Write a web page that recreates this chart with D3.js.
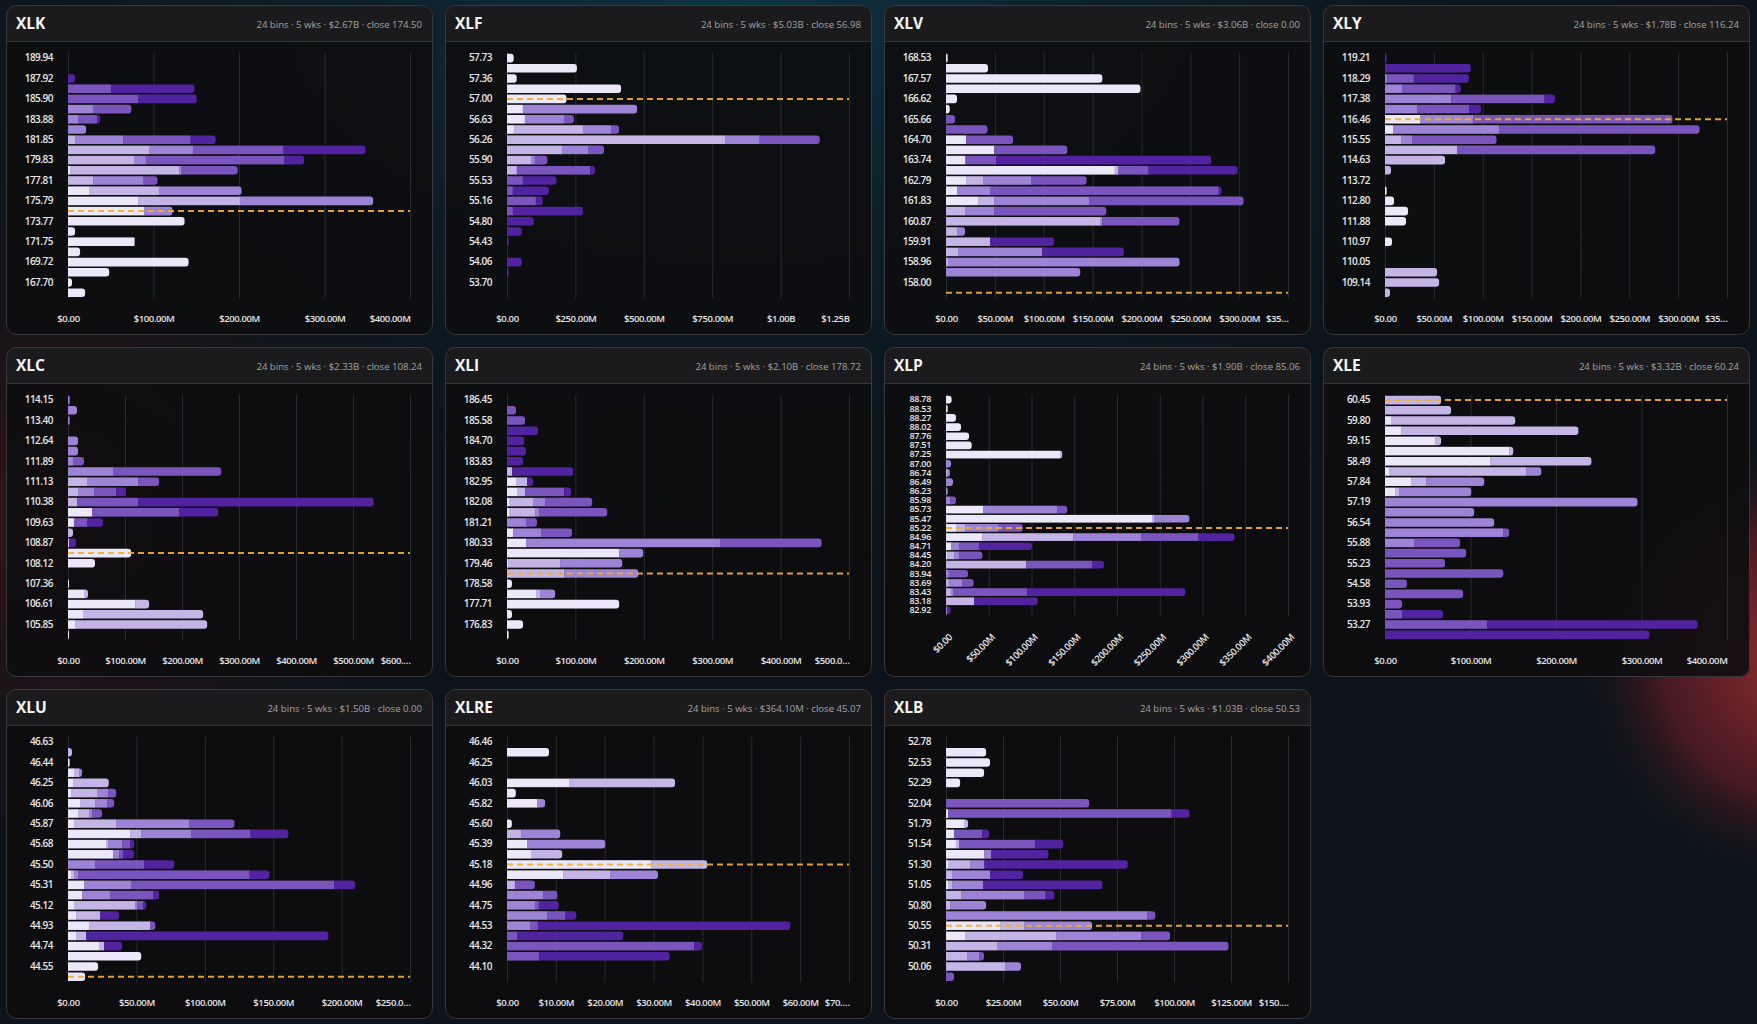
<!DOCTYPE html>
<html>
<head>
<meta charset="utf-8">
<script src="https://cdn.jsdelivr.net/npm/d3@7"></script>
<style>
  html, body { margin: 0; padding: 0; background: #0a0f14; overflow: hidden; }
  svg { display: block; }
</style>
</head>
<body>
<script>
// ---- data ----
var tickers = ["XLK", "XLF", "XLV", "XLY", "XLC", "XLI", "XLP", "XLE", "XLU", "XLRE", "XLB"];
var totals  = ["$2.67B", "$5.03B", "$3.06B", "$1.78B", "$2.33B", "$2.10B", "$1.90B", "$3.32B", "$1.50B", "$364.10M", "$1.03B"];
var closes  = [174.50, 56.98, 0.00, 116.24, 108.24, 178.72, 85.06, 60.24, 0.00, 45.07, 50.53];
var axisMax  = [400e6, 1.25e9, 350e6, 350e6, 600e6, 500e6, 400e6, 400e6, 250e6, 70e6, 150e6];
var axisStep = [100e6, 250e6, 50e6, 50e6, 100e6, 100e6, 50e6, 100e6, 50e6, 10e6, 25e6];

// shown price labels (every other bin, XLP shows all 24)
var xlkPrices  = [189.94, 187.92, 185.90, 183.88, 181.85, 179.83, 177.81, 175.79, 173.77, 171.75, 169.72, 167.70];
var xlfPrices  = [57.73, 57.36, 57.00, 56.63, 56.26, 55.90, 55.53, 55.16, 54.80, 54.43, 54.06, 53.70];
var xlvPrices  = [168.53, 167.57, 166.62, 165.66, 164.70, 163.74, 162.79, 161.83, 160.87, 159.91, 158.96, 158.00];
var xlyPrices  = [119.21, 118.29, 117.38, 116.46, 115.55, 114.63, 113.72, 112.80, 111.88, 110.97, 110.05, 109.14];
var xlcPrices  = [114.15, 113.40, 112.64, 111.89, 111.13, 110.38, 109.63, 108.87, 108.12, 107.36, 106.61, 105.85];
var xliPrices  = [186.45, 185.58, 184.70, 183.83, 182.95, 182.08, 181.21, 180.33, 179.46, 178.58, 177.71, 176.83];
var xlpPrices  = [88.78, 88.53, 88.27, 88.02, 87.76, 87.51, 87.25, 87.00, 86.74, 86.49, 86.23, 85.98,
                  85.73, 85.47, 85.22, 84.96, 84.71, 84.45, 84.20, 83.94, 83.69, 83.43, 83.18, 82.92];
var xlePrices  = [60.45, 59.80, 59.15, 58.49, 57.84, 57.19, 56.54, 55.88, 55.23, 54.58, 53.93, 53.27];
var xluPrices  = [46.63, 46.44, 46.25, 46.06, 45.87, 45.68, 45.50, 45.31, 45.12, 44.93, 44.74, 44.55];
var xlrePrices = [46.46, 46.25, 46.03, 45.82, 45.60, 45.39, 45.18, 44.96, 44.75, 44.53, 44.32, 44.10];
var xlbPrices  = [52.78, 52.53, 52.29, 52.04, 51.79, 51.54, 51.30, 51.05, 50.80, 50.55, 50.31, 50.06];

// $M per bin (top bin first), one column per week, oldest week first
var xlkVol = [[0,0,0,0,0],[0,0,0,0,0],[0,0,0,0,8.2],[0,0,0,50.5,97.5],[0,0,0,82.3,68.2],[0,0,29.4,44.7,0],
  [0,0,11.8,21.9,3.9],[0,0,21.2,0,0],[0,8.2,56.4,78.7,29.4],[0,95.2,50.9,105.8,96],[0,77.6,13.3,162.2,23.1],[2.4,127.6,2.7,65.8,0],
  [0,29.4,58.8,16.5,0],[25.1,81.9,96,0,0],[82.3,118.7,155.9,0,0],[89.3,0,32.9,0,0],[136.3,0,0,0,0],[8.2,0,0,0,0],
  [77,1,0,0,0],[14.1,0,0,0,0],[141,0,0,0,0],[48.2,0,0,0,0],[4.7,0,0,0,0],[20,0,0,0,0]];
var xlfVol = [[24.4,0,0,0,0],[255.5,0,0,0,0],[35.5,0,0,0,0],[416.9,0,0,0,0],[217.6,0,0,0,0],[57.5,0,418.1,0,0],
  [64.8,0,143,36.7,0],[24.4,253,102.7,29.3,0],[0,798.3,124.7,220,0],[0,200.5,95.4,58.7,0],[0,88,13.4,46.5,0],[0,35.5,0,268,18.3],
  [0,0,0,57.5,123.5],[0,0,0,20.8,132],[0,0,0,105,25.7],[0,0,0,20.8,256.7],[0,0,0,0,97.8],[0,0,0,0,53.8],
  [0,0,0,0,6.1],[0,0,0,0,0],[0,0,0,0,53.8],[0,0,0,0,6.1],[0,0,0,0,0],[0,0,0,0,0]];
var xlvVol = [[1.7,0,0,0,0],[43,0,0,0,0],[160,0,0,0,0],[199,0,0,0,0],[11.3,0,0,0,0],[3.8,0,0,0,0],
  [0,0,0,9.2,0],[0,0,0,42.4,0],[20.5,0,0,48.2,0],[49.2,0,0,74.9,0],[19.8,0,0,31.4,220.3],[172.6,3.8,0,30.8,91.3],
  [20.5,17.4,49.2,56.7,0],[11.3,0,33.8,233.8,3.1],[32.8,16.4,97.4,157.9,0],[0,19.5,29.7,114.8,0],[0,158.2,1.7,79,0],[0,11.3,8.2,0,0],
  [0,45.1,0,0,65.6],[0,12.3,86.1,0,83.7],[0,2,237,0,0],[0,0,137.4,0,0],[0,0,0,0,0],[0,0,0,0,0]];
var xlyVol = [[0,0,0,0,1.7],[0,0,0,0,87.8],[0,0,1.7,27.7,56.4],[0,0,17.4,54.7,5.5],[0,0,67.7,95.4,10.9],[0,0,32.8,53.3,12.3],
  [35.9,0,54.3,204,0],[8.2,0,108.7,205,0],[0,16.4,11.3,86.5,0],[0,73.8,0,202.7,0],[0,61.5,0,0,0],[0,6.2,0,0,0],
  [0,0,0,0,0],[1.7,0,0,0,0],[9.2,0,0,0,0],[23.6,0,0,0,0],[21.5,0,0,0,0],[0,0,0,0,0],
  [7.2,0,0,0,0],[0,0,0,0,0],[0,0,0,0,0],[0,53.3,0,0,0],[0,55.4,0,0,0],[0,5.1,0,0,0]];
var xlcVol = [[0,0,2.9,0,0],[0,0,15.8,0,0],[0,0,2.9,0,0],[0,0,0,0,0],[0,0,17.6,0,0],[0,0,17.6,0,0],
  [0,0,8.8,19.3,0],[0,0,79,189.7,0],[0,33.4,89.6,36.9,0],[0,17.6,28.1,38.6,17.6],[0,15.8,0,107.1,413.3],[42.2,0,0,152.8,68.5],
  [10.5,0,0,22.8,28.1],[0,8.8,0,0,0],[1.5,0,0,0,12.5],[110.7,0,0,0,0],[47.4,0,0,0,0],[0,0,0,0,0],
  [1.8,0,0,0,0],[28.1,7,0,0,0],[117.7,24.6,0,0,0],[26.3,210.8,0,0,0],[12.3,231.9,0,0,0],[1.8,0,0,0,0]];
var xliVol = [[0,0,0,0,0],[0,0,0,13.2,0],[0,0,0,26.4,0],[0,0,0,0,45.4],[0,0,0,0,24.9],[0,0,0,0,27.8],
  [0,0,0,0,23.4],[0,7.3,0,0,89.4],[13.2,16.1,0,0,8.8],[14.6,11.7,0,57.1,10.3],[2.9,35.2,17.6,68.8,0],[2.9,38.1,5.9,99.6,0],
  [0,0,27.8,16.1,0],[8.8,0,41,45.4,0],[27.8,0,284.2,148,0],[164,0,35.2,0,0],[1.5,76.2,90.8,0,0],[0,83.5,108.4,0,0],
  [7.3,0,0,0,0],[42.5,5.9,22,0,0],[164,0,0,0,0],[7.3,0,0,0,0],[23.4,0,0,0,0],[2.4,0,0,0,0]];
var xlpVol = [[6.6,0,0,0,0],[2,0,0,0,0],[11.7,0,0,0,0],[17.6,0,0,0,0],[27,0,0,0,0],[30.1,0,0,0,0],
  [133.2,2.7,0,0,0],[0,0,5.9,0,0],[0,1.2,3.5,0,0],[0,0,8.2,0,0],[0,0,2,0,0],[0,0,4.7,7,0],
  [43.4,0,86.7,11.7,0],[241,2.3,41.4,0,0],[11.7,10.5,38.7,28.9,0],[42.2,106.6,79.7,66.8,42.2],[5.9,0,9.4,23.4,61.7],[1.2,8.2,5.9,27.3,0],
  [0,93.8,0,77.3,13.7],[0,0,3.1,22.7,0],[0,3.1,15.6,13.7,0],[0,5.5,2.7,86.7,185.2],[0,32.8,0,0,74.6],[0,0.8,0,0,4.7]];
var xleVol = [[0,65.6,0,0,0],[0,77.3,0,0,0],[7,145.3,0,0,0],[18.8,207.4,0,0,0],[58.6,7,0,0,0],[145.3,4.7,0,0,0],
  [123,118.4,0,0,0],[4.7,160.5,17.6,0,0],[30.5,17.6,68,0,0],[11.7,4.7,84.4,0,0],[0,0,295.3,0,0],[0,0,104.3,0,0],
  [0,0,127.7,0,0],[0,0,138.3,7,0],[0,0,34,53.9,0],[0,0,0,94.9,0],[0,0,0,70.3,0],[0,0,0,138.3,0],
  [0,0,0,25.8,0],[0,0,0,91.4,0],[0,0,0,19.9,0],[0,0,0,19.9,48],[0,0,0,119.5,246.1],[0,0,0,0,309.4]];
var xluVol = [[0,0,0,0,0],[0,2.9,0,0,0],[1.2,0,0,0,0],[4.4,3.7,2.2,0,0],[3.7,26.1,0,0,0],[2.2,19,8.1,5.9,0],
  [8.8,11,8.8,5.1,0],[7.3,8.1,2.2,7.3,0],[4.4,30.8,53.5,33,0],[45.4,8.1,36.6,43.2,27.8],[27.8,1.5,10.3,5.9,2.9],[33,0,4.4,2.9,8.1],
  [0,0,19.8,35.9,22],[2.2,2.2,2.9,125.4,14.6],[11.7,0,34.4,148.4,15.4],[10.3,0,20.5,31.5,4.4],[4.4,44.7,1.5,4.4,2.2],[5.9,17.6,0,0,13.9],
  [15.4,44.7,0,3.7,0],[5.9,7.3,0,0,177.2],[22.7,3.7,0,0,13.2],[53.5,0,0,0,0],[22,0,0,0,0],[12.5,0,0,0,0]];
var xlreVol = [[0,0,0,0,0],[8.6,0,0,0,0],[0,0,0,0,0],[0,0,0,0,0],[12.7,21.7,0,0,0],[1.8,0,0,0,0],
  [6.2,0,1.6,0,0],[0,0,0,0,0],[1,0,0,0,0],[0,2.9,8,0,0],[4.1,0,16,0,0],[4.9,6.4,0,0,0],
  [29.5,11.5,0,0,0],[11.5,9.6,9.8,0,0],[0,1.6,0,4.1,0],[0,0,7.4,2.9,0],[0,0,5.7,0.8,4.1],[0,0,8.2,3.7,2.3],
  [0,0,4.7,1.6,51.7],[0,0,0,2.1,21.7],[0,0,0,38.3,1.6],[0,0,0,6.6,26.7],[0,0,0,0,0],[0,0,0,0,0]];
var xlbVol = [[0,0,0,0,0],[17.6,0,0,0,0],[19.3,0,0,0,0],[16.7,0,0,0,0],[6.2,0,0,0,0],[0,0,0,0,0],
  [0,0,0,62.8,0],[0.9,0,0,98,7.9],[7.9,1.8,0,0,0],[3.5,0,0,12.3,3.1],[4.4,1.3,0,33.4,12.3],[16.7,0,3.1,0,25.2],
  [0.9,9.7,6.2,0,62.9],[0,2.6,16.7,0,14.5],[0.9,1.8,13.6,0,52.3],[0,6.6,27.8,9.2,4],[0,1.8,15.8,0,0],[0,0,88.3,3.5,0],
  [23.7,10.5,29.9,0,0],[8.3,40,37.3,12.7,0],[0,22.4,24.2,77.3,0],[0,9.2,5.3,2.2,0],[0,25.9,7,0,0],[0,0,0,3.5,0]];

var volumes = [xlkVol, xlfVol, xlvVol, xlyVol, xlcVol, xliVol, xlpVol, xleVol, xluVol, xlreVol, xlbVol];
var prices  = [xlkPrices, xlfPrices, xlvPrices, xlyPrices, xlcPrices, xliPrices, xlpPrices, xlePrices, xluPrices, xlrePrices, xlbPrices];

var weekColors = ["#ece8fa", "#c5b5e6", "#9d84d6", "#7a55be", "#5223a0"];

function fmtMoney(v) {
  if (v === 0) return "$0.00";
  if (v >= 1e9) return "$" + (v / 1e9).toFixed(2) + "B";
  return "$" + (v / 1e6).toFixed(2) + "M";
}

// rect with rounded right end only
function barPath(x, y, w, h, r) {
  r = Math.min(r, w, h / 2);
  return "M" + x + "," + y + "h" + (w - r) +
    "a" + r + "," + r + " 0 0 1 " + r + "," + r +
    "v" + (h - 2 * r) +
    "a" + r + "," + r + " 0 0 1 " + (-r) + "," + r +
    "h" + (-(w - r)) + "z";
}

function init() {
  var W = 1757, H = 1024;
  var pw = 427, ph = 330, gap = 12, left = 6, top = 5;

  var svg = d3.select("body").append("svg")
    .attr("width", W).attr("height", H);

  var defs = svg.append("defs");
  var g1 = defs.append("radialGradient").attr("id", "tealGlow")
    .attr("cx", "0.42").attr("cy", "0").attr("r", "0.6");
  g1.append("stop").attr("offset", "0").attr("stop-color", "#0f3442");
  g1.append("stop").attr("offset", "1").attr("stop-color", "#0b1218").attr("stop-opacity", 0);
  var g2 = defs.append("radialGradient").attr("id", "redGlow")
    .attr("gradientUnits", "userSpaceOnUse")
    .attr("cx", 1800).attr("cy", 660).attr("r", 230);
  g2.append("stop").attr("offset", "0").attr("stop-color", "#9a2e30");
  g2.append("stop").attr("offset", "0.6").attr("stop-color", "#5a1c24").attr("stop-opacity", 0.75);
  g2.append("stop").attr("offset", "1").attr("stop-color", "#0b1218").attr("stop-opacity", 0);
  var g3 = defs.append("radialGradient").attr("id", "redLeft")
    .attr("gradientUnits", "userSpaceOnUse")
    .attr("cx", 60).attr("cy", 520).attr("r", 420);
  g3.append("stop").attr("offset", "0").attr("stop-color", "#3a1416");
  g3.append("stop").attr("offset", "1").attr("stop-color", "#0b1218").attr("stop-opacity", 0);

  svg.append("rect").attr("width", W).attr("height", H).attr("fill", "#0c131a");
  svg.append("rect").attr("width", W).attr("height", H).attr("fill", "url(#tealGlow)");
  svg.append("rect").attr("width", W).attr("height", H).attr("fill", "url(#redLeft)");
  svg.append("rect").attr("width", W).attr("height", H).attr("fill", "url(#redGlow)");

  var font = "'Open Sans', 'Noto Sans', sans-serif";

  tickers.forEach(function (tk, p) {
    var col = p % 4, row = Math.floor(p / 4);
    var px = left + col * (pw + gap), py = top + row * (ph + gap);
    var rotated = (tk === "XLP");
    var vols = volumes[p], labs = prices[p];

    var g = svg.append("g").attr("transform", "translate(" + px + "," + py + ")");

    // panel + header
    g.append("rect").attr("width", pw).attr("height", ph).attr("rx", 10)
      .attr("fill", "rgba(13,13,15,0.9)");
    g.append("rect").attr("width", pw).attr("height", 36).attr("rx", 10).attr("fill", "#1b1b1d");
    g.append("rect").attr("y", 20).attr("width", pw).attr("height", 16).attr("fill", "#1b1b1d");
    g.append("line").attr("x1", 0).attr("x2", pw).attr("y1", 36.5).attr("y2", 36.5)
      .attr("stroke", "#34343a");
    g.append("rect").attr("x", 0.5).attr("y", 0.5).attr("width", pw - 1).attr("height", ph - 1)
      .attr("rx", 10).attr("fill", "none").attr("stroke", "#38383d");

    g.append("text").attr("x", 10).attr("y", 24)
      .attr("font-family", font).attr("font-weight", 700).attr("font-size", 15.5)
      .attr("fill", "#f4f4f4").text(tk);
    g.append("text").attr("x", 416).attr("y", 22.5).attr("text-anchor", "end")
      .attr("font-family", font).attr("font-size", 9.6).attr("fill", "#a3a3a3")
      .text("24 bins \u00b7 5 wks \u00b7 " + totals[p] + " \u00b7 close " + closes[p].toFixed(2));

    // scales
    var x0 = 62, x1 = 404;
    var yTop = 48, yBot = rotated ? 268 : 292.8;
    var x = d3.scaleLinear().domain([0, axisMax[p]]).range([x0, x1]);
    var y = d3.scaleBand().domain(d3.range(24)).range([yTop, yBot])
      .paddingInner(0.16).paddingOuter(0.08);
    var every = 24 / labs.length;
    var ticks = d3.range(0, axisMax[p] + axisStep[p] / 2, axisStep[p]);

    // x axis + vertical grid
    var xg = g.append("g").attr("transform", "translate(0," + (yBot + 0.5) + ")")
      .call(d3.axisBottom(x).tickValues(ticks).tickFormat(fmtMoney)
        .tickSizeInner(-(yBot - yTop + 1)).tickSizeOuter(0).tickPadding(17));
    xg.select(".domain").remove();
    xg.selectAll(".tick line").attr("stroke", "#2a2b2e");
    xg.selectAll(".tick text")
      .attr("font-family", font).attr("font-weight", 600).attr("font-size", 9.5)
      .attr("letter-spacing", "-0.4").attr("fill", "#e6e6e6");

    if (rotated) {
      xg.selectAll(".tick text")
        .attr("y", 0).attr("dy", "0.35em").attr("text-anchor", "end")
        .attr("transform", "translate(4,20) rotate(-45)");
    } else {
      // last label aligned to the right edge and cut to half a tick step
      var last = xg.selectAll(".tick text").filter(function (d, i, n) { return i === n.length - 1; });
      last.attr("text-anchor", "end");
      var node = last.node();
      var maxW = (x(axisStep[p]) - x(0)) / 2 + 2;
      var full = node.textContent;
      if (node.getComputedTextLength() > maxW) {
        var n = full.length;
        while (n > 1) {
          n--;
          node.textContent = full.slice(0, n) + "\u2026";
          if (node.getComputedTextLength() <= maxW) break;
        }
      }
    }

    // y axis labels
    var yg = g.append("g").attr("transform", "translate(" + x0 + ",0)")
      .call(d3.axisLeft(y)
        .tickValues(d3.range(0, 24, every))
        .tickFormat(function (i) { return labs[i / every].toFixed(2); })
        .tickSize(0).tickPadding(15));
    yg.select(".domain").remove();
    yg.selectAll(".tick text")
      .attr("font-family", font).attr("font-weight", 600)
      .attr("font-size", rotated ? 9 : 10)
      .attr("letter-spacing", rotated ? "-0.3" : "-0.5").attr("fill", "#e8e8e8");

    // stacked bars
    var bh = y.bandwidth();
    var rowsG = g.append("g");
    vols.forEach(function (wk, i) {
      var lastIdx = -1;
      wk.forEach(function (v, k) { if (v > 0) lastIdx = k; });
      var cum = 0;
      wk.forEach(function (v, k) {
        if (v <= 0) return;
        var a = x(cum * 1e6), b = x((cum + v) * 1e6);
        cum += v;
        var w = Math.max(b - a, 0.6);
        if (k === lastIdx) {
          rowsG.append("path").attr("d", barPath(a, y(i), w, bh, 3)).attr("fill", weekColors[k]);
        } else {
          rowsG.append("rect").attr("x", a).attr("y", y(i)).attr("width", w + 0.3).attr("height", bh)
            .attr("fill", weekColors[k]);
        }
      });
    });

    // close marker: bin holding the close price
    var step = (labs[0] - labs[labs.length - 1]) / ((labs.length - 1) * every);
    var idx = Math.floor((labs[0] - closes[p]) / step + 1e-6);
    idx = Math.max(0, Math.min(23, idx));
    var cy = y(idx) + bh / 2;
    g.append("line").attr("x1", x0).attr("x2", x1).attr("y1", cy).attr("y2", cy)
      .attr("stroke", "#eeb12a").attr("stroke-width", 2).attr("stroke-dasharray", "6 4")
      .attr("opacity", 0.92);
  });
}
window.onload = init;
</script>
</body>
</html>
